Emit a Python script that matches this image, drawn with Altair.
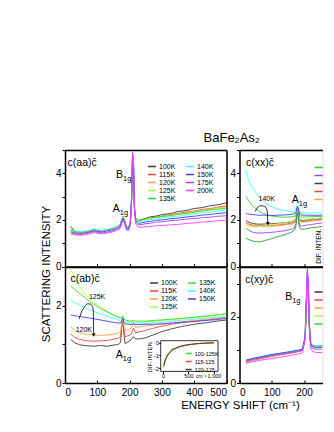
import altair as alt
import pandas as pd

FONT = "Liberation Sans"

# ---------------- colours / series names ----------------
T_NAMES = ["100K", "115K", "120K", "125K", "135K", "140K", "150K", "175K", "200K"]
T_COLORS = ["#3c3c3c", "#ff4040", "#ffa040", "#a8ff40", "#30dd30", "#40ffff", "#4040ff", "#a040ff", "#ff40ff"]
XX_COLORS = ["#3c3c3c", "#ff4040", "#ffa040", "#a8ff40", "#30cc30", "#40ffff", "#4040ff", "#a040ff", "#2e9a2e"]

# legend entries of the cut right-hand panels
XX_LEG = ["135K", "175K", "100K", "115K", "120K"]
XY_LEG = ["100K", "115K", "120K", "125K", "135K"]

# ---------------- c(aa)c panel ----------------
aa_x = [18, 30, 45, 60, 75, 90, 100, 115, 130, 145, 160, 170, 176, 180, 184, 190, 196, 202, 206, 209,
        212, 215, 219, 226, 235, 250, 265, 280, 300, 325, 350, 375, 400, 425, 450, 475, 500]
aa_100 = [1.72, 1.52, 1.47, 1.50, 1.53, 1.59, 1.55, 1.54, 1.58, 1.63, 1.70, 1.79, 2.02, 2.15, 1.98, 1.72, 1.68, 1.85, 2.70, 4.40,
          4.20, 2.50, 2.06, 1.98, 2.01, 2.07, 2.14, 2.16, 2.23, 2.27, 2.36, 2.40, 2.49, 2.53, 2.61, 2.65, 2.74]
aa_115 = [1.60, 1.48, 1.44, 1.47, 1.51, 1.56, 1.53, 1.51, 1.57, 1.60, 1.68, 1.76, 2.00, 2.13, 1.96, 1.70, 1.66, 1.83, 2.75, 4.45,
          4.25, 2.50, 2.03, 1.95, 1.97, 2.04, 2.08, 2.12, 2.16, 2.23, 2.28, 2.34, 2.38, 2.45, 2.49, 2.55, 2.61]
aa_120 = [1.62, 1.47, 1.45, 1.46, 1.51, 1.57, 1.54, 1.50, 1.55, 1.61, 1.67, 1.75, 1.98, 2.12, 1.95, 1.69, 1.65, 1.83, 2.80, 4.50,
          4.30, 2.50, 2.02, 1.94, 1.96, 2.02, 2.08, 2.10, 2.15, 2.21, 2.26, 2.31, 2.37, 2.42, 2.47, 2.53, 2.58]
aa_125 = [1.58, 1.49, 1.46, 1.48, 1.52, 1.58, 1.55, 1.52, 1.57, 1.62, 1.69, 1.77, 2.00, 2.14, 1.97, 1.71, 1.67, 1.85, 2.80, 4.55,
          4.35, 2.55, 2.04, 1.96, 1.98, 2.03, 2.09, 2.10, 2.15, 2.19, 2.25, 2.29, 2.34, 2.40, 2.44, 2.49, 2.53]
aa_135 = [1.55, 1.50, 1.47, 1.50, 1.54, 1.60, 1.57, 1.54, 1.59, 1.64, 1.71, 1.79, 2.02, 2.16, 1.99, 1.73, 1.69, 1.87, 2.85, 4.60,
          4.40, 2.55, 2.06, 1.98, 2.00, 2.05, 2.10, 2.11, 2.15, 2.18, 2.24, 2.28, 2.33, 2.38, 2.43, 2.46, 2.51]
aa_140 = [1.64, 1.53, 1.50, 1.52, 1.56, 1.62, 1.58, 1.55, 1.60, 1.64, 1.70, 1.78, 2.00, 2.12, 1.96, 1.70, 1.66, 1.84, 2.85, 4.65,
          4.45, 2.50, 2.00, 1.92, 1.93, 1.98, 2.01, 2.05, 2.08, 2.13, 2.16, 2.22, 2.26, 2.31, 2.34, 2.39, 2.42]
aa_150 = [1.50, 1.44, 1.42, 1.44, 1.48, 1.54, 1.51, 1.48, 1.53, 1.57, 1.64, 1.72, 1.95, 2.08, 1.92, 1.66, 1.62, 1.82, 2.90, 4.80,
          4.55, 2.50, 1.96, 1.86, 1.87, 1.91, 1.94, 1.98, 2.00, 2.05, 2.08, 2.13, 2.16, 2.21, 2.24, 2.28, 2.31]
aa_175 = [1.45, 1.40, 1.38, 1.40, 1.44, 1.50, 1.47, 1.44, 1.48, 1.52, 1.59, 1.66, 1.90, 2.04, 1.88, 1.62, 1.58, 1.78, 2.90, 4.90,
          4.60, 2.45, 1.90, 1.80, 1.80, 1.84, 1.86, 1.90, 1.92, 1.97, 1.99, 2.04, 2.06, 2.10, 2.12, 2.16, 2.18]
aa_200 = [1.40, 1.36, 1.34, 1.36, 1.40, 1.46, 1.43, 1.40, 1.44, 1.48, 1.55, 1.62, 1.86, 2.00, 1.84, 1.58, 1.54, 1.74, 2.85, 4.85,
          4.55, 2.40, 1.84, 1.70, 1.68, 1.71, 1.72, 1.75, 1.76, 1.79, 1.81, 1.85, 1.87, 1.91, 1.93, 1.97, 1.99]

# ---------------- c(xx)c panel (visible part only) ----------------
xx_x = [20, 25, 30, 40, 50, 60, 70, 80, 90, 100, 115, 130, 145, 160, 170, 175, 178, 181, 184, 188,
        195, 205, 220, 238, 256]
xx_140 = [4.15, 3.85, 3.62, 3.38, 3.18, 3.00, 2.85, 2.73, 2.64, 2.57, 2.49, 2.43, 2.39, 2.36, 2.37, 2.45, 2.60, 2.62, 2.42, 2.33,
          2.30, 2.31, 2.29, 2.31, 2.30]
xx_135 = [3.00, 2.90, 2.80, 2.62, 2.48, 2.38, 2.30, 2.25, 2.20, 2.17, 2.14, 2.12, 2.12, 2.13, 2.15, 2.30, 2.50, 2.52, 2.30, 2.16,
          2.12, 2.13, 2.14, 2.15, 2.15]
xx_150 = [2.28, 2.26, 2.25, 2.23, 2.22, 2.20, 2.21, 2.20, 2.19, 2.19, 2.20, 2.21, 2.22, 2.24, 2.27, 2.35, 2.55, 2.55, 2.35, 2.24,
          2.20, 2.21, 2.20, 2.20, 2.21]
xx_100 = [1.98, 1.94, 1.90, 1.85, 1.83, 1.82, 1.82, 1.83, 1.83, 1.84, 1.85, 1.87, 1.89, 1.92, 1.96, 2.10, 2.45, 2.45, 2.15, 2.00,
          1.98, 2.00, 2.03, 2.05, 2.08]
xx_115 = [1.90, 1.86, 1.82, 1.78, 1.76, 1.75, 1.75, 1.76, 1.76, 1.77, 1.78, 1.80, 1.83, 1.86, 1.90, 2.05, 2.40, 2.40, 2.10, 1.95,
          1.93, 1.95, 1.98, 2.00, 2.03]
xx_120 = [1.85, 1.81, 1.78, 1.74, 1.73, 1.72, 1.72, 1.72, 1.73, 1.73, 1.74, 1.76, 1.79, 1.82, 1.87, 2.00, 2.38, 2.38, 2.05, 1.92,
          1.90, 1.92, 1.95, 1.97, 2.00]
xx_125 = [1.78, 1.75, 1.72, 1.70, 1.70, 1.72, 1.74, 1.76, 1.78, 1.80, 1.83, 1.86, 1.89, 1.93, 1.97, 2.10, 2.45, 2.45, 2.12, 2.02,
          2.00, 2.02, 2.04, 2.06, 2.08]
xx_175 = [1.65, 1.60, 1.55, 1.48, 1.45, 1.44, 1.44, 1.45, 1.46, 1.47, 1.49, 1.52, 1.55, 1.60, 1.66, 1.85, 2.30, 2.30, 1.90, 1.75,
          1.74, 1.77, 1.80, 1.84, 1.88]
xx_200 = [1.22, 1.18, 1.15, 1.10, 1.07, 1.06, 1.08, 1.12, 1.16, 1.20, 1.27, 1.33, 1.39, 1.47, 1.55, 1.75, 2.25, 2.25, 1.80, 1.62,
          1.60, 1.62, 1.66, 1.69, 1.72]

# ---------------- c(ab)c panel ----------------
ab_x = [18, 30, 45, 60, 75, 90, 110, 130, 150, 165, 172, 176, 179, 182, 186, 195, 205, 212, 218, 230,
        250, 275, 300, 330, 360, 400, 440, 470, 500]
ab_100 = [1.13, 1.04, 0.99, 0.97, 0.96, 0.95, 0.97, 0.95, 0.98, 1.00, 1.05, 1.45, 1.65, 1.30, 1.02, 1.06, 1.12, 1.20, 1.14, 1.14,
          1.17, 1.25, 1.33, 1.40, 1.46, 1.52, 1.56, 1.60, 1.63]
ab_115 = [1.27, 1.18, 1.13, 1.10, 1.09, 1.08, 1.09, 1.10, 1.13, 1.16, 1.20, 1.50, 1.70, 1.40, 1.20, 1.22, 1.26, 1.42, 1.30, 1.32,
          1.36, 1.42, 1.47, 1.52, 1.56, 1.60, 1.63, 1.66, 1.69]
ab_120 = [1.45, 1.36, 1.30, 1.27, 1.25, 1.24, 1.23, 1.24, 1.26, 1.29, 1.33, 1.55, 1.72, 1.50, 1.36, 1.37, 1.42, 1.56, 1.44, 1.45,
          1.48, 1.50, 1.52, 1.55, 1.58, 1.62, 1.65, 1.68, 1.70]
ab_125 = [2.95, 2.70, 2.50, 2.33, 2.20, 2.08, 1.96, 1.85, 1.76, 1.71, 1.69, 1.70, 1.72, 1.66, 1.63, 1.60, 1.58, 1.60, 1.58, 1.57,
          1.58, 1.60, 1.62, 1.64, 1.66, 1.70, 1.73, 1.76, 1.79]
ab_135 = [2.50, 2.42, 2.32, 2.22, 2.12, 2.03, 1.93, 1.84, 1.76, 1.70, 1.68, 1.70, 1.72, 1.66, 1.63, 1.61, 1.60, 1.62, 1.60, 1.60,
          1.60, 1.62, 1.63, 1.65, 1.67, 1.70, 1.73, 1.76, 1.79]
ab_140 = [2.14, 2.08, 2.02, 1.96, 1.90, 1.85, 1.79, 1.73, 1.67, 1.63, 1.62, 1.66, 1.70, 1.62, 1.58, 1.56, 1.55, 1.57, 1.55, 1.55,
          1.55, 1.56, 1.57, 1.60, 1.62, 1.65, 1.68, 1.70, 1.72]
ab_150 = [1.76, 1.74, 1.72, 1.70, 1.68, 1.66, 1.63, 1.60, 1.57, 1.55, 1.55, 1.62, 1.68, 1.58, 1.53, 1.52, 1.51, 1.53, 1.51, 1.51,
          1.52, 1.52, 1.53, 1.55, 1.57, 1.59, 1.62, 1.64, 1.67]

# inset of c(ab)c : difference intensity
dif_x = [15, 40, 70, 100, 140, 180, 220, 280, 350, 430, 520, 620, 720, 820, 920, 1000]
dif_100_125 = [-1.95, -1.50, -1.20, -0.98, -0.80, -0.62, -0.55, -0.42, -0.32, -0.24, -0.17, -0.12, -0.08, -0.05, -0.03, -0.02]
dif_115_125 = [-1.85, -1.45, -1.15, -0.95, -0.78, -0.60, -0.52, -0.40, -0.30, -0.22, -0.16, -0.11, -0.07, -0.05, -0.03, -0.02]
dif_120_125 = [-1.75, -1.38, -1.10, -0.90, -0.72, -0.50, -0.48, -0.36, -0.27, -0.20, -0.14, -0.10, -0.06, -0.04, -0.02, -0.01]
DIF_NAMES = ["100-125K", "115-125", "120-125"]
DIF_COLORS = ["#30ee30", "#ff4040", "#3c3c3c"]

# ---------------- c(xy)c panel (visible part only) ----------------
xy_x = [20, 40, 60, 80, 100, 120, 140, 160, 180, 195, 203, 207, 210, 213, 216, 220, 226, 238, 256]
xy_100 = [0.66, 0.71, 0.75, 0.79, 0.83, 0.86, 0.89, 0.93, 0.96, 1.00, 1.30, 2.20, 3.00, 2.70, 1.70, 1.22, 1.12, 1.10, 1.11]
xy_115 = [0.62, 0.68, 0.72, 0.76, 0.80, 0.84, 0.87, 0.90, 0.94, 0.98, 1.30, 2.25, 3.05, 2.75, 1.70, 1.20, 1.10, 1.08, 1.09]
xy_120 = [0.64, 0.69, 0.74, 0.78, 0.81, 0.85, 0.88, 0.92, 0.95, 0.99, 1.30, 2.30, 3.10, 2.80, 1.75, 1.21, 1.11, 1.09, 1.10]
xy_125 = [0.67, 0.72, 0.76, 0.80, 0.84, 0.87, 0.90, 0.93, 0.97, 1.01, 1.30, 2.30, 3.15, 2.85, 1.75, 1.23, 1.13, 1.11, 1.12]
xy_135 = [0.68, 0.73, 0.77, 0.81, 0.85, 0.88, 0.91, 0.94, 0.98, 1.02, 1.35, 2.35, 3.20, 2.90, 1.80, 1.24, 1.14, 1.12, 1.13]
xy_140 = [0.70, 0.74, 0.78, 0.82, 0.85, 0.89, 0.92, 0.95, 0.98, 1.02, 1.35, 2.40, 3.25, 2.95, 1.80, 1.22, 1.12, 1.10, 1.11]
xy_150 = [0.69, 0.74, 0.78, 0.82, 0.86, 0.89, 0.92, 0.95, 0.99, 1.02, 1.40, 2.50, 3.35, 3.05, 1.85, 1.20, 1.10, 1.07, 1.08]
xy_175 = [0.66, 0.71, 0.75, 0.79, 0.83, 0.86, 0.89, 0.92, 0.95, 0.99, 1.40, 2.60, 3.45, 3.10, 1.85, 1.15, 1.04, 1.02, 1.02]
xy_200 = [0.60, 0.64, 0.68, 0.71, 0.74, 0.77, 0.80, 0.83, 0.87, 0.91, 1.30, 2.50, 3.35, 3.00, 1.75, 1.05, 0.95, 0.92, 0.92]

# ---------------- annotations (data coordinates) ----------------
xx_arrow_x = [48.5, 53.7, 61.9, 71.2, 79.5, 84.6, 86.7, 87.7]
xx_arrow_y = [2.36, 2.50, 2.60, 2.61, 2.57, 2.46, 2.28, 1.84]
ab_arrow_x = [43.3, 50.6, 58.8, 69.1, 79.5, 85.7, 87.7, 88.8]
ab_arrow_y = [1.65, 1.83, 1.96, 2.05, 2.04, 1.98, 1.87, 1.24]

X_TICKS_L = [0, 100, 200, 300, 400, 500]
X_TICKS_R = [0, 100, 200]
W_L = 161.5
W_R = 83.0
X_MAX_R = 257          # the right-hand panels are cut by the picture edge
H_TOP = 116.6
H_BOT = 116.0


def long_df(x, names, series):
    rows = []
    for n, s in zip(names, series):
        for xi, yi in zip(x, s):
            rows.append({"x": xi, "y": yi, "T": n})
    return pd.DataFrame(rows)


def sc(dom, rng=None):
    if rng is None:
        return alt.Scale(domain=dom, nice=False, zero=False)
    return alt.Scale(domain=dom, range=rng, nice=False, zero=False)


def legend(lx, ly, cols=2, size=7, rowpad=0, colpad=7, symsize=64):
    return alt.Legend(orient="none", legendX=lx, legendY=ly, columns=cols, title=None,
                      symbolType="stroke", symbolSize=symsize, symbolStrokeWidth=1.5,
                      labelFontSize=size, labelFont=FONT, labelColor="black", labelOffset=2,
                      rowPadding=rowpad, columnPadding=colpad, padding=0, labelLimit=0)


def stub_legend(lx, ly, values):
    return alt.Legend(orient="none", legendX=lx, legendY=ly, title=None, symbolType="stroke",
                      symbolSize=64, symbolStrokeWidth=1.5, labelExpr="''", labelOffset=0,
                      labelFontSize=7, rowPadding=0, padding=0, values=values)


def base_layers(df, order, colors, xmax, xticks, ydom, yticks, leg, xlabels, frame_right=True):
    xs = sc([0, xmax])
    ys = sc(ydom)
    main = alt.Chart(df).mark_line(strokeWidth=0.9, clip=True).encode(
        x=alt.X("x:Q", scale=xs, axis=alt.Axis(orient="bottom", values=xticks, labels=xlabels, ticks=False,
                                               domain=True, domainColor="black", domainWidth=1.5,
                                               grid=False, title=None, labelPadding=4,
                                               labelFontSize=10, labelFont=FONT, labelColor="black")),
        y=alt.Y("y:Q", scale=ys, axis=alt.Axis(orient="left", values=yticks,
                                               labelExpr="datum.value % 2 == 0 ? datum.label : ''",
                                               tickSize=3, tickColor="black", domain=True,
                                               domainColor="black", domainWidth=1.5, grid=False,
                                               title=None, labelPadding=1, labelFontSize=10,
                                               labelFont=FONT, labelColor="black")),
        color=alt.Color("T:N", scale=alt.Scale(domain=order, range=colors), legend=leg),
    )
    # inward ticks of the bottom axis
    ticks = alt.Chart(df).mark_line(opacity=0, clip=True).encode(
        x=alt.X("x:Q", scale=xs, axis=alt.Axis(orient="bottom", values=xticks, labels=False, ticks=True,
                                               tickSize=3, tickColor="black", offset=-3, domain=False,
                                               grid=False, title=None)),
        y=alt.Y("y:Q", scale=ys, axis=None),
    )
    # top (and right) edge of the frame
    if frame_right:
        yenc = alt.Y("y:Q", scale=ys, axis=alt.Axis(orient="right", labels=False, ticks=False, domain=True,
                                                    domainColor="black", domainWidth=1.5, grid=False,
                                                    title=None))
    else:
        yenc = alt.Y("y:Q", scale=ys, axis=None)
    top = alt.Chart(df).mark_line(opacity=0, clip=True).encode(
        x=alt.X("x:Q", scale=xs, axis=alt.Axis(orient="top", labels=False, ticks=False, domain=True,
                                               domainColor="black", domainWidth=1.5, grid=False, title=None)),
        y=yenc,
    )
    return xs, ys, [main, ticks, top]


def text_layer(xs, ys, xv, yv, tv, size, align="left", baseline="alphabetic", angle=0, dx=0, dy=0):
    d = pd.DataFrame({"x": xv, "y": yv, "t": tv})
    kw = dict(font=FONT, fontSize=size, align=align, baseline=baseline, color="black", dx=dx, dy=dy)
    if angle:
        kw["angle"] = angle
    return alt.Chart(d).mark_text(**kw).encode(
        x=alt.X("x:Q", scale=xs, axis=None), y=alt.Y("y:Q", scale=ys, axis=None), text="t:N")


def peak_label(xs, ys, letter, x, y):
    return [text_layer(xs, ys, [x], [y], [letter], 10.5),
            text_layer(xs, ys, [x], [y], ["1g"], 7.5, dx=7, dy=3)]


def arrow(xs, ys, ax, ay):
    d = pd.DataFrame({"x": ax, "y": ay, "i": list(range(len(ax)))})
    line = alt.Chart(d).mark_line(color="black", strokeWidth=0.8).encode(
        x=alt.X("x:Q", scale=xs, axis=None), y=alt.Y("y:Q", scale=ys, axis=None), order="i:Q")
    head = alt.Chart(d.tail(1)).mark_point(shape="triangle-down", filled=True, size=14, color="black",
                                           opacity=1).encode(
        x=alt.X("x:Q", scale=xs, axis=None), y=alt.Y("y:Q", scale=ys, axis=None))
    return [line, head]


def panel(layers, w, h):
    return alt.layer(*layers).resolve_scale(
        x="independent", y="independent", color="independent").properties(width=w, height=h)


# ---- top-left: c(aa)c ----
aa_df = long_df(aa_x, T_NAMES, [aa_100, aa_115, aa_120, aa_125, aa_135, aa_140, aa_150, aa_175, aa_200])
xs, ys, L = base_layers(aa_df, T_NAMES, T_COLORS, 500, X_TICKS_L,
                        [0, 5], [0, 1, 2, 3, 4, 5], legend(82, 11.5), False)
L.append(text_layer(xs, ys, [8], [4.32], ["c(aa)c\u0304"], 10.5))
L += peak_label(xs, ys, "B", 158, 3.82)
L += peak_label(xs, ys, "A", 148, 2.36)
TL = panel(L, W_L, H_TOP)

# ---- top-right: c(xx)c ----
xx_df = long_df(xx_x, T_NAMES, [xx_100, xx_115, xx_120, xx_125, xx_135, xx_140, xx_150, xx_175, xx_200])
xs, ys, L = base_layers(xx_df, T_NAMES, XX_COLORS, X_MAX_R, X_TICKS_R, [0, 5], [0, 1, 2, 3, 4, 5],
                        stub_legend(W_R - 9, 12.5, XX_LEG), False, frame_right=False)
L.append(text_layer(xs, ys, [20], [4.32], ["c(xx)c\u0304"], 10.5))
L += peak_label(xs, ys, "A", 162, 2.71)
L.append(text_layer(xs, ys, [59], [2.92], ["140K"], 7, baseline="middle"))
L += arrow(xs, ys, xx_arrow_x, xx_arrow_y)
L.append(text_layer(xs, ys, [246], [0.87], ["DIF. INTEN."], 6.5, align="center", baseline="middle", angle=270))
TR = panel(L, W_R, H_TOP)

# ---- bottom-left: c(ab)c ----
ab_df = long_df(ab_x, T_NAMES[:7], [ab_100, ab_115, ab_120, ab_125, ab_135, ab_140, ab_150])
xs, ys, L = base_layers(ab_df, T_NAMES[:7], T_COLORS[:7], 500, X_TICKS_L,
                        [0, 3], [0, 1, 2, 3], legend(84, 11), True)
L.append(text_layer(xs, ys, [17], [2.62], ["c(ab)c\u0304"], 10.5))
L += peak_label(xs, ys, "A", 157, 0.65)
L.append(text_layer(xs, ys, [74], [2.22], ["125K"], 7, baseline="middle"))
L.append(text_layer(xs, ys, [33], [1.36], ["120K"], 7, baseline="middle"))
L += arrow(xs, ys, ab_arrow_x, ab_arrow_y)
# inset
ixs = sc([-45, 1080], [95.7, 153])
iys = sc([-2.25, 0.15], [104.4, 73.7])
frame = alt.Chart(pd.DataFrame({"x": [-45], "x2": [1080], "y": [-2.25], "y2": [0.15]})).mark_rect(
    fill="white", stroke="black", strokeWidth=0.8).encode(
    x=alt.X("x:Q", scale=ixs, axis=None), x2="x2:Q", y=alt.Y("y:Q", scale=iys, axis=None), y2="y2:Q")
dif_df = long_df(dif_x, DIF_NAMES, [dif_100_125, dif_115_125, dif_120_125])
inset = alt.Chart(dif_df).mark_line(strokeWidth=0.9).encode(
    x=alt.X("x:Q", scale=ixs, axis=alt.Axis(orient="bottom", offset=-(H_BOT - 104.4), values=[0, 500, 1000],
                                            tickSize=2, tickColor="black", labelFontSize=5.5, labelPadding=0,
                                            labelFont=FONT, labelColor="black", domain=False, grid=False,
                                            title=None)),
    y=alt.Y("y:Q", scale=iys, axis=alt.Axis(orient="left", offset=-95.7, values=[-2, -1, 0],
                                            labelExpr="'' + datum.value", tickSize=2, tickColor="black",
                                            labelFontSize=6, labelPadding=0, labelFont=FONT,
                                            labelColor="black", domain=False, grid=False,
                                            title="DIF. INTEN.", titleFontSize=6, titleFont=FONT,
                                            titleFontWeight="normal", titlePadding=1)),
    color=alt.Color("T:N", scale=alt.Scale(domain=DIF_NAMES, range=DIF_COLORS),
                    legend=legend(119.7, 82.5, cols=1, size=5.5, symsize=36, rowpad=0)),
)
L += [frame, inset, text_layer(ixs, iys, [750], [-2.6], ["cm\u207b\u00b9"], 5, align="center", baseline="middle")]
BL = panel(L, W_L, H_BOT)

# ---- bottom-right: c(xy)c ----
xy_df = long_df(xy_x, T_NAMES, [xy_100, xy_115, xy_120, xy_125, xy_135, xy_140, xy_150, xy_175, xy_200])
xs, ys, L = base_layers(xy_df, T_NAMES, T_COLORS, X_MAX_R, X_TICKS_R, [0, 3.5], [0, 1, 2, 3],
                        stub_legend(W_R - 9, 20, XY_LEG), True, frame_right=False)
L.append(text_layer(xs, ys, [18], [3.01], ["c(xy)c\u0304"], 10.5))
L += peak_label(xs, ys, "B", 141.5, 2.51)
BR = panel(L, W_R, H_BOT)

grid = alt.concat(TL, TR, BL, BR, columns=2, bounds="flush",
                  spacing=alt.RowColnumber(row=0, column=12.5)).resolve_scale(color="independent")

c1 = alt.vconcat(grid, title=alt.TitleParams("ENERGY SHIFT (cm\u207b\u00b9)", orient="bottom", anchor="middle",
                                             fontSize=11.5, font=FONT, fontWeight="normal", offset=2,
                                             dx=50, color="black")).resolve_scale(color="independent")
c2 = alt.vconcat(c1, title=alt.TitleParams("SCATTERING INTENSITY", orient="left", anchor="middle",
                                           fontSize=11.5, font=FONT, fontWeight="normal", offset=2,
                                           dx=6, color="black")).resolve_scale(color="independent")
chart = alt.vconcat(c2, title=alt.TitleParams("BaFe\u2082As\u2082", orient="top", anchor="middle",
                                              fontSize=13, font=FONT, fontWeight="normal", offset=4,
                                              dx=48, color="black")).resolve_scale(color="independent")
chart = chart.properties(padding={"left": 33, "top": 124, "right": 0, "bottom": 0}).configure_view(
    stroke=None).configure(font=FONT)

chart.save("out.html", embed_options={"renderer": "svg", "actions": False})
